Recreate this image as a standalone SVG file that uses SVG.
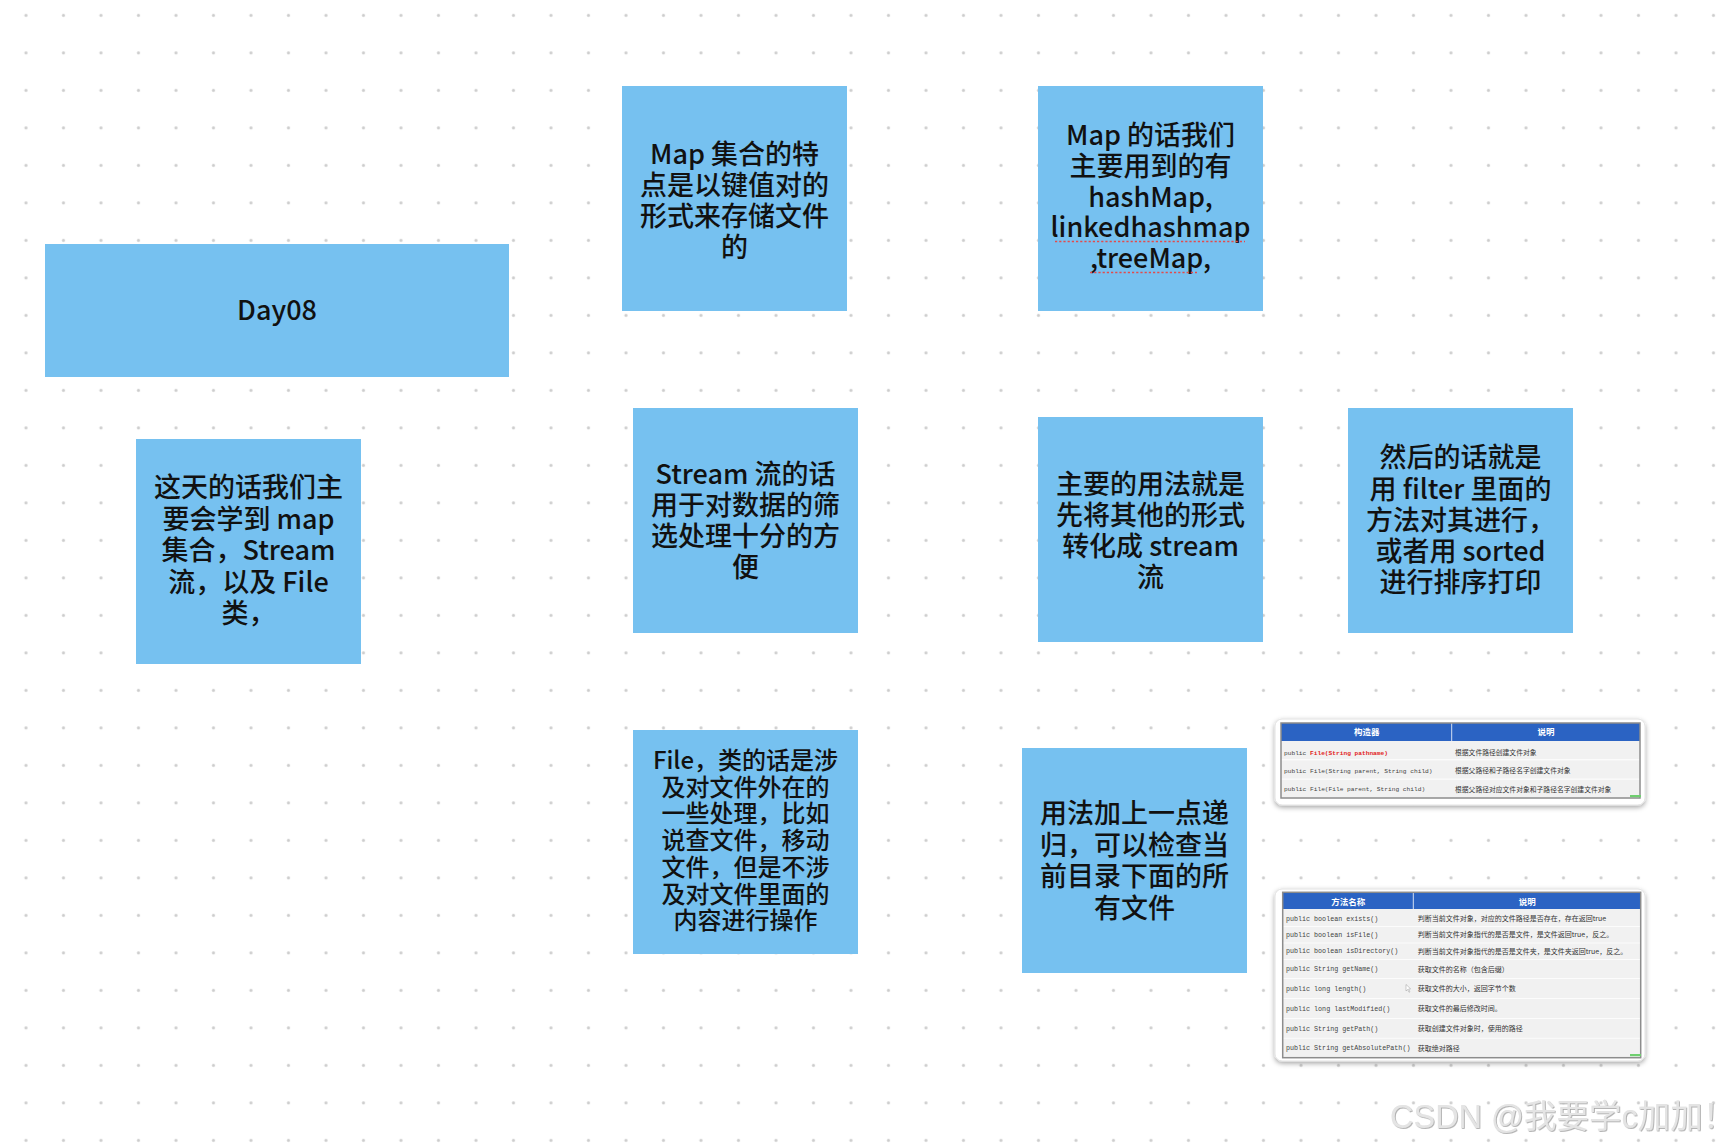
<svg xmlns="http://www.w3.org/2000/svg" width="1736" height="1146" viewBox="0 0 1736 1146">
<style>
.box{fill:#76c1f0}
.t{font-family:"Noto Sans CJK SC","Noto Sans",sans-serif;font-size:27px;font-weight:500;fill:#111;text-anchor:middle}
.ts{font-size:24px}
.card{fill:#fff;stroke:#e2e2e2;stroke-width:1}
.hdr{fill:#2b63c3}
.row{fill:#f1f1f1}
.tb{fill:none;stroke:#8c8c8c;stroke-width:1.5}
.ht{font-family:"Noto Sans CJK SC",sans-serif;font-size:8.5px;font-weight:700;fill:#fff;text-anchor:middle}
.m1{font-family:"Liberation Mono",monospace;font-size:6.2px;fill:#444}
.m2{font-family:"Liberation Mono",monospace;font-size:6.7px;fill:#444}
.d1{font-family:"Noto Sans CJK SC",sans-serif;font-size:6.8px;fill:#333}
.d2{font-family:"Noto Sans CJK SC",sans-serif;font-size:7px;fill:#333}
.red{fill:#e2231a;font-weight:700}
.sq{stroke:#e34b4b;stroke-width:1.6;stroke-dasharray:2.2 2;fill:none}
.wm{font-family:"Liberation Sans","Noto Sans CJK SC",sans-serif;font-size:32.5px;fill:#e4e4e4}
</style>
<defs>
<pattern id="dots" width="37.5" height="37.5" patternUnits="userSpaceOnUse">
<circle cx="26" cy="15.3" r="1.6" fill="#cdcdcd"/>
</pattern>
<filter id="sh" x="-5%" y="-15%" width="110%" height="130%">
<feDropShadow dx="0" dy="2" stdDeviation="2.5" flood-color="#000" flood-opacity="0.35"/>
</filter>
<filter id="emb" x="-5%" y="-20%" width="110%" height="140%">
<feDropShadow dx="0.8" dy="0.8" stdDeviation="0.5" flood-color="#9a9a9a" flood-opacity="0.9"/>
</filter>
</defs>
<rect width="1736" height="1146" fill="#fff"/>
<rect width="1736" height="1146" fill="url(#dots)"/>

<g id="connectors"/>

<g id="day08">
<rect class="box" x="45" y="244" width="464" height="133"/>
<text class="t" x="277" y="320">Day08</text>
</g>

<g id="map-feature">
<rect class="box" x="622" y="86" width="225" height="225"/>
<text class="t"><tspan x="734.5" y="164">Map 集合的特</tspan><tspan x="734.5" y="195">点是以键值对的</tspan><tspan x="734.5" y="226">形式来存储文件</tspan><tspan x="734.5" y="256.5">的</tspan></text>
</g>

<g id="map-types">
<rect class="box" x="1038" y="86" width="225" height="225"/>
<text class="t"><tspan x="1150.5" y="145">Map 的话我们</tspan><tspan x="1150.5" y="175.8">主要用到的有</tspan><tspan x="1150.5" y="206.5">hashMap,</tspan><tspan x="1150.5" y="237.3">linkedhashmap</tspan><tspan x="1150.5" y="268">,treeMap,</tspan></text>
<line class="sq" x1="1055" y1="241.5" x2="1245" y2="241.5"/>
<line class="sq" x1="1090" y1="272.5" x2="1197" y2="272.5"/>
</g>

<g id="intro">
<rect class="box" x="136" y="439" width="225" height="225"/>
<text class="t"><tspan x="248.5" y="497">这天的话我们主</tspan><tspan x="248.5" y="528.5">要会学到 map</tspan><tspan x="248.5" y="560">集合，Stream</tspan><tspan x="248.5" y="591.5">流，以及 File</tspan><tspan x="248.5" y="623">类，</tspan></text>
</g>

<g id="stream">
<rect class="box" x="633" y="408" width="225" height="225"/>
<text class="t"><tspan x="745.5" y="484">Stream 流的话</tspan><tspan x="745.5" y="515">用于对数据的筛</tspan><tspan x="745.5" y="546">选处理十分的方</tspan><tspan x="745.5" y="577">便</tspan></text>
</g>

<g id="stream-usage">
<rect class="box" x="1038" y="417" width="225" height="225"/>
<text class="t"><tspan x="1150.5" y="494">主要的用法就是</tspan><tspan x="1150.5" y="525">先将其他的形式</tspan><tspan x="1150.5" y="556">转化成 stream</tspan><tspan x="1150.5" y="587">流</tspan></text>
</g>

<g id="stream-filter">
<rect class="box" x="1348" y="408" width="225" height="225"/>
<text class="t"><tspan x="1460.5" y="467">然后的话就是</tspan><tspan x="1460.5" y="498.5">用 filter 里面的</tspan><tspan x="1460.5" y="530">方法对其进行，</tspan><tspan x="1460.5" y="561">或者用 sorted</tspan><tspan x="1460.5" y="592">进行排序打印</tspan></text>
</g>

<g id="file">
<rect class="box" x="633" y="730" width="225" height="224"/>
<text class="t ts"><tspan x="745.5" y="769">File，类的话是涉</tspan><tspan x="745.5" y="795.7">及对文件外在的</tspan><tspan x="745.5" y="822.4">一些处理，比如</tspan><tspan x="745.5" y="849">说查文件，移动</tspan><tspan x="745.5" y="875.8">文件，但是不涉</tspan><tspan x="745.5" y="902.5">及对文件里面的</tspan><tspan x="745.5" y="929">内容进行操作</tspan></text>
</g>

<g id="file-recursion">
<rect class="box" x="1022" y="748" width="225" height="225"/>
<text class="t"><tspan x="1134.5" y="823">用法加上一点递</tspan><tspan x="1134.5" y="854.5">归，可以检查当</tspan><tspan x="1134.5" y="886">前目录下面的所</tspan><tspan x="1134.5" y="917.5">有文件</tspan></text>
</g>

<g id="table-constructors">
<rect class="card" x="1275" y="719" width="370" height="86" rx="7" filter="url(#sh)"/>
<rect class="hdr" x="1281" y="723" width="359" height="18"/>
<line x1="1451.7" y1="723" x2="1451.7" y2="741" stroke="#fff" stroke-width="0.8"/>
<rect class="row" x="1281" y="741" width="359" height="18.3"/>
<rect class="row" x="1281" y="760.3" width="359" height="18.3"/>
<rect class="row" x="1281" y="779.6" width="359" height="18.3"/>
<rect class="tb" x="1281" y="723" width="359" height="75"/>
<text class="ht" x="1366.7" y="735.3">构造器</text>
<text class="ht" x="1546" y="735.3">说明</text>
<text class="m1" x="1284" y="754.5">public <tspan class="red">File(String pathname)</tspan></text>
<text class="m1" x="1284" y="773">public File(String parent, String child)</text>
<text class="m1" x="1284" y="791.3">public File(File  parent, String child)</text>
<text class="d1" x="1455" y="754.8">根据文件路径创建文件对象</text>
<text class="d1" x="1455" y="773.2">根据父路径和子路径名字创建文件对象</text>
<text class="d1" x="1455" y="791.5">根据父路径对应文件对象和子路径名字创建文件对象</text>
<rect x="1630" y="795" width="11" height="2.2" fill="#6fcf6f"/>
</g>

<g id="table-methods">
<rect class="card" x="1275" y="889" width="370" height="172" rx="7" filter="url(#sh)"/>
<rect class="hdr" x="1282.7" y="892.3" width="358" height="16.7"/>
<line x1="1413.3" y1="892.3" x2="1413.3" y2="909" stroke="#fff" stroke-width="0.8"/>
<rect class="row" x="1282.7" y="909" width="358" height="17"/>
<rect class="row" x="1282.7" y="926.8" width="358" height="15.8"/>
<rect class="row" x="1282.7" y="943.4" width="358" height="15.8"/>
<rect class="row" x="1282.7" y="960" width="358" height="18.2"/>
<rect class="row" x="1282.7" y="979" width="358" height="19.2"/>
<rect class="row" x="1282.7" y="999" width="358" height="19.2"/>
<rect class="row" x="1282.7" y="1019" width="358" height="18.8"/>
<rect class="row" x="1282.7" y="1038.6" width="358" height="19.1"/>
<rect class="tb" x="1282.7" y="892.3" width="358" height="165.4"/>
<text class="ht" x="1348.3" y="904.6">方法名称</text>
<text class="ht" x="1527.3" y="904.6">说明</text>
<text class="m2" x="1286" y="920.6">public boolean exists()</text>
<text class="m2" x="1286" y="937">public boolean isFile()</text>
<text class="m2" x="1286" y="953.3">public boolean isDirectory()</text>
<text class="m2" x="1286" y="971.3">public String getName()</text>
<text class="m2" x="1286" y="991">public long length()</text>
<text class="m2" x="1286" y="1011">public long lastModified()</text>
<text class="m2" x="1286" y="1030.6">public String getPath()</text>
<text class="m2" x="1286" y="1050.3">public String getAbsolutePath()</text>
<text class="d2" x="1417.7" y="920.9">判断当前文件对象，对应的文件路径是否存在，存在返回true</text>
<text class="d2" x="1417.7" y="937.3">判断当前文件对象指代的是否是文件，是文件返回true，反之。</text>
<text class="d2" x="1417.7" y="953.6">判断当前文件对象指代的是否是文件夹，是文件夹返回true，反之。</text>
<text class="d2" x="1417.7" y="971.6">获取文件的名称（包含后缀）</text>
<text class="d2" x="1417.7" y="991.3">获取文件的大小，返回字节个数</text>
<text class="d2" x="1417.7" y="1011.3">获取文件的最后修改时间。</text>
<text class="d2" x="1417.7" y="1030.9">获取创建文件对象时，使用的路径</text>
<text class="d2" x="1417.7" y="1050.6">获取绝对路径</text>
<path d="M1406,984.5 L1406,991 L1407.6,989.5 L1409,992.3 L1409.9,991.8 L1408.6,989 L1410.6,988.8 Z" fill="#fff" stroke="#999" stroke-width="0.5"/>
<rect x="1630" y="1054" width="11" height="2.2" fill="#6fcf6f"/>
</g>

<g id="watermark">
<text class="wm" x="1390" y="1127.5" filter="url(#emb)">CSDN @我要学c加加！</text>
</g>
</svg>
